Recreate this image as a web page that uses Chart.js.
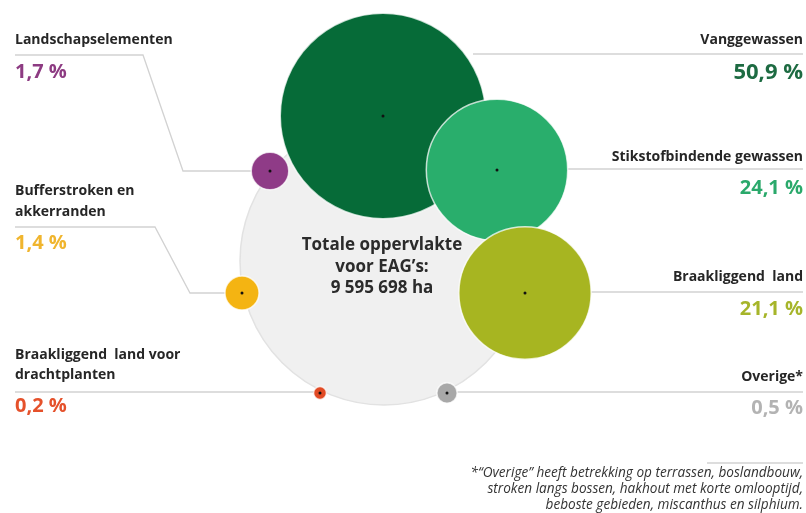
<!DOCTYPE html>
<html>
<head>
<meta charset="utf-8">
<script src="https://cdn.jsdelivr.net/npm/chart.js@4"></script>
<style>
  body { margin: 0; background: #fff; }
  #wrap { width: 806px; height: 513px; }
</style>
</head>
<body>
<div id="wrap"><canvas id="eagChart" width="806" height="513"></canvas></div>
<script>
// data
const categories = ["Vanggewassen", "Stikstofbindende gewassen", "Braakliggend land", "Landschapselementen", "Bufferstroken en akkerranden", "Braakliggend land voor drachtplanten", "Overige*"];
const shares = [50.9, 24.1, 21.1, 1.7, 1.4, 0.2, 0.5];
const shareLabels = ["50,9 %", "24,1 %", "21,1 %", "1,7 %", "1,4 %", "0,2 %", "0,5 %"];
const totalShare = 100;
const totalLines = ["Totale oppervlakte", "voor EAG\u2019s:", "9 595 698 ha"];
const footnote = ["*\u201cOverige\u201d heeft betrekking op terrassen, boslandbouw,", "stroken langs bossen, hakhout met korte omlooptijd,", "beboste gebieden, miscanthus en silphium."];

// layout (canvas units)
const posX = [383, 497, 525, 270, 242, 320, 447];
const posY = [116, 170, 293, 171, 293, 393, 393];
const totalPos = { x: 384, y: 261 };
const K = 14.4; // px per sqrt(%) -> bubble area follows share
const colors = ["#066b38", "#29ae6c", "#a7b521", "#8f3b87", "#f4b412", "#e14a24", "#a8a8a8"];
const pctColors = ["#1d6b42", "#2aa96b", "#a6b52a", "#8d3b82", "#f0b52e", "#e5512b", "#b3b3b3"];

// label blocks: side, name lines y, pct y, pct size, leader path
const labelLayout = [
  { side: "r", names: ["Vanggewassen"], ny: [40], py: 73, ps: 22, path: [[473, 54], [803, 54]] },
  { side: "r", names: ["Stikstofbindende gewassen"], ny: [157], py: 188, ps: 20, path: [[497, 169], [803, 169]] },
  { side: "r", names: ["Braakliggend  land"], ny: [277], py: 309, ps: 20, path: [[525, 292], [803, 292]] },
  { side: "l", names: ["Landschapselementen"], ny: [40], py: 72, ps: 20, path: [[15, 55], [143, 55], [183, 171], [270, 171]] },
  { side: "l", names: ["Bufferstroken en", "akkerranden"], ny: [191, 212], py: 243, ps: 20, path: [[15, 227], [155, 227], [190, 293], [242, 293]] },
  { side: "l", names: ["Braakliggend  land voor", "drachtplanten"], ny: [355, 375], py: 406, ps: 20, path: [[15, 392], [320, 392]] },
  { side: "r", names: ["Overige*"], ny: [377], py: 408, ps: 20, path: [[447, 392], [803, 392]] }
];

const labelsPlugin = {
  id: "labelsPlugin",
  beforeDatasetsDraw(chart) {
    const { ctx, scales: { x, y } } = chart;
    ctx.save();
    ctx.strokeStyle = "#d2d2d2";
    ctx.lineWidth = 1.3;
    labelLayout.forEach(l => {
      ctx.beginPath();
      l.path.forEach((p, i) => {
        const px = x.getPixelForValue(p[0]);
        const py = y.getPixelForValue(p[1]);
        if (i === 0) ctx.moveTo(px, py); else ctx.lineTo(px, py);
      });
      ctx.stroke();
    });
    // footnote rule
    ctx.beginPath();
    ctx.moveTo(x.getPixelForValue(707), y.getPixelForValue(463));
    ctx.lineTo(x.getPixelForValue(803), y.getPixelForValue(463));
    ctx.stroke();
    ctx.restore();
  },
  afterDatasetsDraw(chart) {
    const { ctx, scales: { x, y } } = chart;
    ctx.save();
    ctx.textBaseline = "middle";
    labelLayout.forEach((l, i) => {
      const tx = x.getPixelForValue(l.side === "l" ? 15 : 803);
      ctx.textAlign = l.side === "l" ? "left" : "right";
      ctx.fillStyle = "#262626";
      ctx.font = "bold 14px 'Open Sans'";
      l.names.forEach((n, j) => ctx.fillText(n, tx, y.getPixelForValue(l.ny[j])));
      ctx.fillStyle = pctColors[i];
      ctx.font = "bold " + l.ps + "px 'Open Sans'";
      ctx.fillText(shareLabels[i], tx, y.getPixelForValue(l.py));
    });
    // centre text
    ctx.textAlign = "center";
    ctx.fillStyle = "#2b2b2b";
    ctx.font = "bold 17px 'Open Sans'";
    [245, 267, 288].forEach((ty, j) => ctx.fillText(totalLines[j], x.getPixelForValue(382), y.getPixelForValue(ty)));
    // footnote
    ctx.textAlign = "right";
    ctx.fillStyle = "#333";
    ctx.font = "italic 13.6px 'Open Sans'";
    [473, 489, 505].forEach((ty, j) => ctx.fillText(footnote[j], x.getPixelForValue(803), y.getPixelForValue(ty)));
    ctx.restore();
  }
};

new Chart(document.getElementById("eagChart"), {
  type: "bubble",
  data: {
    datasets: [
      {
        label: "Centers",
        type: "scatter",
        data: shares.map((s, i) => ({ x: posX[i], y: posY[i] })),
        backgroundColor: "#111",
        borderWidth: 0,
        pointRadius: 1.5,
        order: 0,
        clip: false
      },
      {
        label: "Aandeel",
        data: shares.map((s, i) => ({ x: posX[i], y: posY[i], r: K * Math.sqrt(s) })),
        backgroundColor: colors,
        borderColor: "rgba(255,255,255,0.75)",
        borderWidth: 1.5,
        order: 1,
        clip: false
      },
      {
        label: "Totaal",
        data: [{ x: totalPos.x, y: totalPos.y, r: K * Math.sqrt(totalShare) }],
        backgroundColor: "#f0f0f0",
        borderColor: "#e2e2e2",
        borderWidth: 1.5,
        order: 2,
        clip: false
      }
    ]
  },
  options: {
    responsive: false,
    animation: false,
    layout: { padding: 0, autoPadding: false },
    scales: {
      x: { type: "linear", min: 0, max: 806, display: false },
      y: { type: "linear", min: 0, max: 513, reverse: true, display: false }
    },
    plugins: {
      legend: { display: false },
      tooltip: { enabled: false }
    }
  },
  plugins: [labelsPlugin]
});
</script>
</body>
</html>
